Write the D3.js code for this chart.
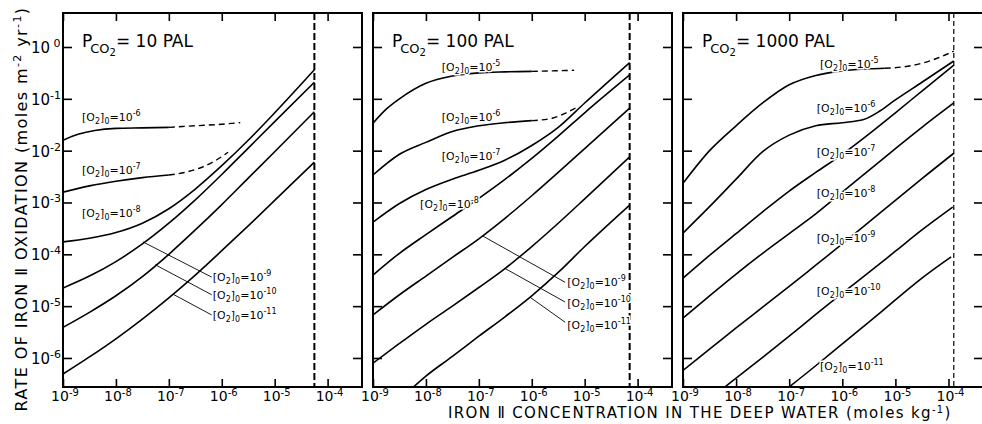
<!DOCTYPE html>
<html>
<head>
<meta charset="utf-8">
<script src="https://cdn.jsdelivr.net/npm/d3@7"></script>
<style>
  body { margin: 0; background: #fff; }
  svg { display: block; font-family: "DejaVu Sans", sans-serif; }
</style>
</head>
<body>
<svg id="chart" width="982" height="424"></svg>
<script>
// P_CO2 of each panel (PAL)
const pco2 = ["10", "100", "1000"];
// decade ticks (log10)
const xTickExp = [-9, -8, -7, -6, -5, -4];
const yTickExp = [0, -1, -2, -3, -4, -5, -6];
// saturation limit of Fe(II) in each panel (log10 moles/kg), dashed vertical
const limitExp = [-4.25, -4.15, -3.9];

// curves: [log10 Fe, log10 rate]; o2 = exponent of [O2]0
const curves10 = [
  {o2: -6, solid: [[-9,-1.80],[-8.7,-1.68],[-8.4,-1.61],[-8,-1.57],[-7.5,-1.56],[-7,-1.55]],
           dashed: [[-7,-1.55],[-6.5,-1.52],[-6,-1.49],[-5.65,-1.46]]},
  {o2: -7, solid: [[-9,-2.80],[-8.5,-2.68],[-8,-2.59],[-7.5,-2.52],[-7,-2.47]],
           dashed: [[-7,-2.47],[-6.7,-2.42],[-6.4,-2.33],[-6.1,-2.18],[-5.88,-2.03]]},
  {o2: -8, solid: [[-9,-3.76],[-8.5,-3.69],[-8,-3.58],[-7.5,-3.40],[-7,-3.12],[-6.5,-2.74],[-6,-2.29],[-5.5,-1.80],[-5,-1.27],[-4.25,-0.44]]},
  {o2: -9, solid: [[-9,-4.65],[-8.5,-4.42],[-8,-4.14],[-7.5,-3.80],[-7,-3.40],[-6.5,-2.95],[-6,-2.46],[-5.5,-1.95],[-5,-1.44],[-4.25,-0.68]]},
  {o2: -10, solid: [[-9,-5.41],[-8.5,-5.12],[-8,-4.80],[-7.5,-4.43],[-7,-4.00],[-6.5,-3.53],[-6,-3.04],[-5.5,-2.53],[-5,-2.02],[-4.25,-1.25]]},
  {o2: -11, solid: [[-9,-6.31],[-8.5,-5.98],[-8,-5.63],[-7.5,-5.25],[-7,-4.84],[-6.5,-4.40],[-6,-3.93],[-5.5,-3.45],[-5,-2.96],[-4.25,-2.22]]}
];
const curves100 = [
  {o2: -5, solid: [[-9,-1.47],[-8.75,-1.20],[-8.5,-1.00],[-8,-0.70],[-7.5,-0.56],[-7,-0.50],[-6.5,-0.48],[-6,-0.47]],
           dashed: [[-6,-0.47],[-5.6,-0.46],[-5.2,-0.45]]},
  {o2: -6, solid: [[-9,-2.47],[-8.5,-2.07],[-8,-1.84],[-7.5,-1.63],[-7,-1.52],[-6.5,-1.46],[-6,-1.42]],
           dashed: [[-6,-1.42],[-5.6,-1.37],[-5.35,-1.27],[-5.12,-1.15]]},
  {o2: -7, solid: [[-9,-3.38],[-8.5,-3.02],[-8,-2.75],[-7.5,-2.55],[-7,-2.38],[-6.5,-2.18],[-6,-1.90],[-5.5,-1.55],[-5,-1.08],[-4.15,-0.30]]},
  {o2: -8, solid: [[-9,-4.40],[-8.5,-3.98],[-8,-3.62],[-7.5,-3.27],[-7,-2.92],[-6.5,-2.55],[-6,-2.15],[-5.5,-1.72],[-5,-1.27],[-4.15,-0.54]]},
  {o2: -9, solid: [[-9,-5.17],[-8.5,-4.78],[-8,-4.42],[-7.5,-4.06],[-7,-3.70],[-6.5,-3.30],[-6,-2.87],[-5.5,-2.42],[-5,-1.96],[-4.15,-1.18]]},
  {o2: -10, solid: [[-9,-6.10],[-8.5,-5.72],[-8,-5.35],[-7.5,-5.00],[-7,-4.64],[-6.5,-4.27],[-6,-3.85],[-5.5,-3.40],[-5,-2.93],[-4.15,-2.12]]},
  {o2: -11, solid: [[-8.3,-6.62],[-8,-6.35],[-7.5,-5.97],[-7,-5.58],[-6.5,-5.20],[-6,-4.80],[-5.5,-4.35],[-5,-3.85],[-4.15,-3.05]]}
];
const curves1000 = [
  {o2: -5, solid: [[-9,-2.63],[-8.5,-2.00],[-8,-1.52],[-7.5,-1.08],[-7,-0.73],[-6.5,-0.55],[-6,-0.46],[-5.5,-0.42],[-5.2,-0.41]],
           dashed: [[-5.2,-0.41],[-4.7,-0.36],[-4.3,-0.25],[-3.9,-0.08]]},
  {o2: -6, solid: [[-9,-3.59],[-8.5,-3.08],[-8,-2.55],[-7.5,-2.02],[-7,-1.70],[-6.5,-1.52],[-6,-1.46],[-5.6,-1.40],[-5.3,-1.24],[-5,-1.02],[-4.5,-0.68],[-3.9,-0.27]]},
  {o2: -7, solid: [[-9,-4.46],[-8.5,-4.02],[-8,-3.60],[-7.5,-3.18],[-7,-2.78],[-6.5,-2.42],[-6,-2.07],[-5.5,-1.68],[-5,-1.27],[-4.5,-0.85],[-3.9,-0.35]]},
  {o2: -8, solid: [[-9,-5.23],[-8.5,-4.80],[-8,-4.38],[-7.5,-3.98],[-7,-3.60],[-6.5,-3.22],[-6,-2.80],[-5.5,-2.38],[-5,-1.96],[-4.5,-1.55],[-3.9,-1.08]]},
  {o2: -9, solid: [[-9,-6.24],[-8.5,-5.83],[-8,-5.42],[-7.5,-5.02],[-7,-4.62],[-6.5,-4.21],[-6,-3.80],[-5.5,-3.38],[-5,-2.96],[-4.5,-2.54],[-3.9,-2.05]]},
  {o2: -10, solid: [[-8.3,-6.63],[-8,-6.39],[-7.5,-5.99],[-7,-5.58],[-6.5,-5.16],[-6,-4.75],[-5.5,-4.35],[-5,-3.94],[-4.5,-3.53],[-3.92,-3.09]]},
  {o2: -11, solid: [[-7.1,-6.64],[-6.5,-6.15],[-6,-5.73],[-5.5,-5.31],[-5,-4.88],[-4.5,-4.46],[-3.95,-4.05]]}
];

// label anchors: [o2 exponent, log10 Fe, log10 rate] (baseline, left end)
const labels10 = [[-6,-8.64,-1.43],[-7,-8.64,-2.45],[-8,-8.64,-3.28],[-9,-6.17,-4.52],[-10,-6.17,-4.86],[-11,-6.17,-5.25]];
const labels100 = [[-5,-7.70,-0.46],[-6,-7.70,-1.43],[-7,-7.70,-2.18],[-8,-8.11,-3.11],[-9,-5.33,-4.61],[-10,-5.33,-5.02],[-11,-5.33,-5.44]];
const labels1000 = [[-5,-6.42,-0.41],[-6,-6.48,-1.25],[-7,-6.48,-2.10],[-8,-6.48,-2.90],[-9,-6.48,-3.76],[-10,-6.48,-4.79],[-11,-6.42,-6.24]];
// leader lines: [from Fe, from rate, to Fe, to rate] (log10)
const leaders10 = [[-7.49,-3.76,-6.19,-4.44],[-7.26,-4.20,-6.19,-4.78],[-6.92,-4.77,-6.19,-5.17]];
const leaders100 = [[-6.92,-3.65,-5.37,-4.54],[-6.51,-4.27,-5.37,-4.92],[-6.03,-4.83,-5.37,-5.31]];

const panelCurves = [curves10, curves100, curves1000];
const panelLabels = [labels10, labels100, labels1000];
const panelLeaders = [leaders10, leaders100, []];

const svg = d3.select("#chart");
const panelLeft = [63, 373, 683];
const panelWidth = [299, 299, 300];
const yTop = 13, yBottom = 387;
const p = e => Math.pow(10, e);

function supText(t, base, exp, size, rise) {
  t.append("tspan").text(base);
  t.append("tspan").attr("dy", -rise).attr("font-size", size).text(exp);
}

pco2.forEach(function(pc, i) {
  const left = panelLeft[i], right = left + panelWidth[i];
  const x = d3.scaleLog().domain([1e-9, p(-3.35)]).range([left, right]);
  const y = d3.scaleLog().domain([p(-6.56), p(0.656)]).range([yBottom, yTop]);
  const g = svg.append("g");

  g.append("clipPath").attr("id", "clip" + i)
    .append("rect").attr("x", left).attr("y", yTop).attr("width", right - left).attr("height", yBottom - yTop);

  // inward ticks on all four sides
  const xt = xTickExp.map(p), yt = yTickExp.map(p);
  [d3.axisBottom(x).tickValues(xt).tickSize(-8), d3.axisTop(x).tickValues(xt).tickSize(-8)].forEach(function(ax, k) {
    g.append("g").attr("transform", "translate(0," + (k == 0 ? yBottom : yTop) + ")")
      .call(ax.tickFormat(""))
      .call(s => s.select(".domain").remove())
      .selectAll("line").attr("stroke-width", 1.6);
  });
  [d3.axisLeft(y).tickValues(yt).tickSize(-9), d3.axisRight(y).tickValues(yt).tickSize(-9)].forEach(function(ax, k) {
    g.append("g").attr("transform", "translate(" + (k == 0 ? left : right) + ",0)")
      .call(ax.tickFormat(""))
      .call(s => s.select(".domain").remove())
      .selectAll("line").attr("stroke-width", 1.6);
  });

  // frame
  g.append("rect").attr("x", left).attr("y", yTop).attr("width", right - left).attr("height", yBottom - yTop)
    .attr("fill", "none").attr("stroke", "#000").attr("stroke-width", 2);

  // saturation line
  g.append("line").attr("x1", x(p(limitExp[i]))).attr("x2", x(p(limitExp[i])))
    .attr("y1", yTop).attr("y2", yBottom).attr("stroke", "#000")
    .attr("stroke-width", i == 2 ? 1.2 : 2).attr("stroke-dasharray", i == 2 ? "5,3" : "7,3");

  // curves
  const line = d3.line().x(d => x(p(d[0]))).y(d => y(p(d[1]))).curve(d3.curveMonotoneX);
  const cg = g.append("g").attr("clip-path", "url(#clip" + i + ")").attr("fill", "none").attr("stroke", "#000");
  panelCurves[i].forEach(function(c) {
    cg.append("path").attr("d", line(c.solid)).attr("stroke-width", 1.6);
    if (c.dashed) cg.append("path").attr("d", line(c.dashed)).attr("stroke-width", 1.4).attr("stroke-dasharray", "6,4");
  });

  // leader lines
  panelLeaders[i].forEach(function(l) {
    g.append("line").attr("x1", x(p(l[0]))).attr("y1", y(p(l[1])))
      .attr("x2", x(p(l[2]))).attr("y2", y(p(l[3])))
      .attr("stroke", "#000").attr("stroke-width", 0.9);
  });

  // [O2]0 labels
  panelLabels[i].forEach(function(lb) {
    const t = g.append("text").attr("x", x(p(lb[1]))).attr("y", y(p(lb[2])))
      .attr("font-size", 11).attr("stroke", "#fff").attr("stroke-width", 3)
      .attr("paint-order", "stroke").attr("fill", "#000");
    t.append("tspan").text("[O");
    t.append("tspan").attr("dy", 3).attr("font-size", 8).text("2");
    t.append("tspan").attr("dy", -3).text("]");
    t.append("tspan").attr("dy", 3).attr("font-size", 8).text("0");
    t.append("tspan").attr("dy", -3).text("=10");
    t.append("tspan").attr("dy", -5).attr("font-size", 8).text(String(lb[0]));
  });

  // panel title
  const tt = g.append("text").attr("x", left + 19).attr("y", 47).attr("font-size", 17);
  tt.append("tspan").text("P");
  tt.append("tspan").attr("dx", -2).attr("dy", 6).attr("font-size", 13).text("CO");
  tt.append("tspan").attr("dy", 3).attr("font-size", 10).text("2");
  tt.append("tspan").attr("dy", -9).text("= " + pc + " PAL");

  // x tick labels
  xTickExp.forEach(function(e) {
    const t = g.append("text").attr("x", x(p(e)) + 2).attr("y", 401)
      .attr("font-size", 14).attr("text-anchor", "middle");
    supText(t, "10", String(e), 10, 5);
  });
});

// y tick labels (left panel only)
const y0 = d3.scaleLog().domain([p(-6.56), p(0.656)]).range([yBottom, yTop]);
yTickExp.forEach(function(e) {
  const t = svg.append("text").attr("x", 31).attr("y", y0(p(e)) + 6).attr("font-size", 15);
  supText(t, "10", e == 0 ? " 0" : String(e), 11, 6);
});

// stretch a title to a given length
function fit(t, target) {
  const n = t.text().length;
  const len = t.node().getComputedTextLength();
  t.attr("letter-spacing", ((target - len) / n).toFixed(2));
}

// y axis title
const ytl = svg.append("text").attr("transform", "translate(27,209) rotate(-90)")
  .attr("text-anchor", "middle").attr("font-size", 16);
ytl.append("tspan").text("RATE OF IRON \u2161 OXIDATION (moles m");
ytl.append("tspan").attr("dy", -6).attr("font-size", 11).text("-2");
ytl.append("tspan").attr("dy", 6).text(" yr");
ytl.append("tspan").attr("dy", -6).attr("font-size", 11).text("-1");
ytl.append("tspan").attr("dy", 6).text(")");
fit(ytl, 405);

// x axis title
const xtl = svg.append("text").attr("x", 448).attr("y", 418).attr("font-size", 15);
xtl.append("tspan").text("IRON \u2161 CONCENTRATION IN THE DEEP WATER (moles  kg");
xtl.append("tspan").attr("dy", -5).attr("font-size", 10).text("-1");
xtl.append("tspan").attr("dy", 5).text(")");
fit(xtl, 505);
</script>
</body>
</html>
